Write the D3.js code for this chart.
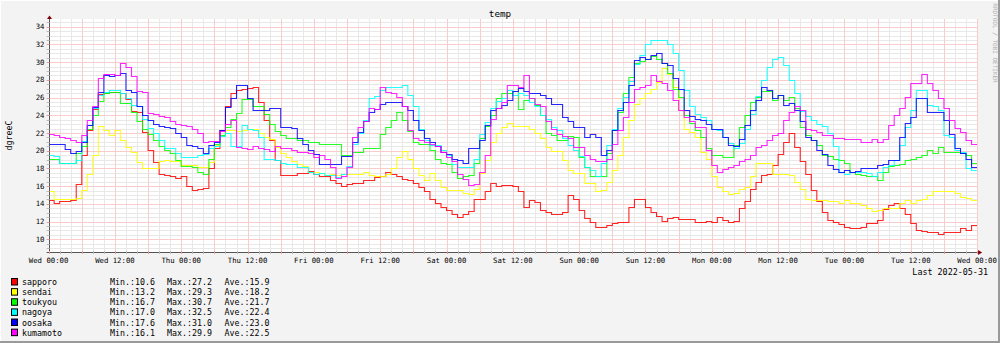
<!DOCTYPE html>
<html><head><meta charset="utf-8">
<script src="https://cdn.jsdelivr.net/npm/d3@7/dist/d3.min.js"></script>
<style>html,body{margin:0;padding:0;background:#F3F3F3}svg{display:block}</style>
</head><body><svg id="c" width="1000" height="343"></svg>
<script>
// ---------- data (hourly, Wed 00:00 .. Tue 23:00) ----------
const names  = ["sapporo","sendai","toukyou","nagoya","oosaka","kumamoto"];
const colors = ["#FF0000","#FFFF00","#00FF00","#00FFFF","#0000FF","#FF00FF"];
const sapporo = [14.4,14.1,14.3,14.3,14.4,16.2,19.5,22.3,24.7,26.4,26.5,26.6,
26.6,26.5,25.8,24.5,24.4,22.1,20.1,18.7,17.4,17.3,17.2,16.9,
17.1,16.0,15.6,15.7,15.8,18.0,20.3,22.3,25.1,26.5,26.9,27.0,
27.1,27.2,25.5,23.5,21.2,19.0,17.3,17.3,17.3,17.5,17.5,17.7,
17.4,17.2,17.2,16.7,16.3,16.0,16.2,16.4,16.4,16.7,16.7,17.0,
17.2,17.6,17.4,17.1,16.8,16.7,16.3,15.9,15.4,14.6,14.1,13.6,
13.3,12.9,12.55,12.9,13.2,14.5,14.6,15.4,16.4,16.0,16.1,16.1,
16.0,15.4,13.7,14.4,14.2,13.3,13.1,12.9,12.9,13.1,15.0,14.6,
13.3,12.4,12.0,11.35,11.4,11.6,11.8,11.9,12.0,13.6,14.5,14.5,
13.6,13.1,12.6,12.1,12.4,12.5,12.25,12.25,12.25,11.9,11.9,12.1,
11.9,12.5,12.2,11.9,12.1,13.5,14.3,15.7,16.5,17.3,17.4,18.4,
19.6,21.0,22.0,20.4,18.8,17.4,15.6,14.3,13.1,12.2,11.9,11.7,
11.35,11.25,11.25,11.4,11.8,11.8,12.2,13.4,13.9,14.1,13.5,12.9,
11.8,11.05,10.9,10.85,10.85,10.6,10.85,10.85,10.85,11.3,11.1,11.6];
const sendai = [15.4,14.6,14.5,14.5,14.5,14.7,15.6,17.4,19.5,22.8,22.3,21.8,
22.3,21.2,20.4,19.8,18.7,18.0,18.1,18.1,18.8,18.9,18.8,18.8,
18.4,18.4,18.4,18.2,18.2,18.7,20.6,21.7,22.3,22.3,22.2,22.3,
22.5,22.5,22.0,21.6,21.3,20.4,19.7,19.3,18.8,18.5,18.3,17.6,
17.6,17.5,17.3,17.4,17.3,17.4,17.4,17.4,17.4,17.6,17.3,17.2,
17.1,17.4,18.0,19.3,20.0,19.1,18.0,17.3,16.7,17.5,16.7,15.9,
15.6,15.6,15.6,15.2,15.1,15.7,17.5,19.0,21.0,22.0,22.7,23.1,
22.8,22.8,22.8,22.5,22.0,21.4,20.4,20.0,20.0,19.0,17.8,17.5,
17.5,16.3,16.3,15.45,15.6,16.5,17.8,19.5,21.5,23.5,25.3,25.9,
26.5,27.0,27.8,29.3,28.7,27.2,24.6,22.5,22.1,21.6,19.9,19.1,
17.1,15.9,15.4,15.1,15.2,15.7,15.9,17.1,18.6,18.6,18.6,17.4,
17.4,17.4,17.3,16.5,15.7,14.6,14.4,14.4,14.4,14.3,14.3,14.1,
14.4,14.1,14.1,13.9,13.5,13.2,13.3,13.5,13.5,13.5,14.1,14.4,
14.1,14.4,14.6,15.0,15.5,15.5,15.4,15.4,15.2,14.8,14.7,14.4];
const toukyou = [19.1,19.1,18.6,18.6,18.6,19.7,20.5,22.5,24.0,25.6,26.5,26.6,
26.6,25.4,25.4,24.4,23.3,22.4,21.9,21.2,20.5,20.1,19.7,19.0,
18.3,18.3,18.2,17.6,17.4,19.1,20.8,21.8,22.7,23.6,24.3,25.8,
25.8,25.0,25.0,24.1,23.0,22.2,21.8,21.4,21.4,21.2,21.2,21.0,
21.0,20.8,20.8,20.8,20.8,19.5,19.5,19.8,19.8,20.3,20.3,20.3,
21.9,22.7,23.5,24.4,23.5,22.2,21.0,20.8,20.8,20.1,19.1,18.6,
18.5,17.6,16.9,17.1,17.3,18.6,21.4,22.8,24.0,25.9,26.5,26.5,
26.7,24.7,25.7,26.0,25.2,24.0,22.0,21.8,21.2,21.2,21.7,21.6,
19.3,18.2,17.1,17.1,17.1,19.7,22.3,24.4,26.5,28.3,29.9,30.1,
30.4,30.7,30.3,29.9,28.8,27.0,26.1,24.0,23.1,22.3,21.6,20.3,
19.5,19.5,19.3,19.3,20.6,22.7,24.0,25.5,26.1,26.7,26.7,25.7,
26.3,25.7,26.1,24.8,22.7,21.8,21.2,20.6,19.5,19.4,19.1,18.9,
18.6,17.6,17.4,17.3,17.2,17.1,16.7,17.6,18.3,18.4,18.5,19.0,
19.1,19.3,19.5,20.1,19.7,20.4,19.9,19.9,19.8,19.7,19.5,18.6];
const nagoya = [19.5,19.4,18.6,18.6,18.6,19.0,21.1,22.9,24.8,26.3,26.6,26.9,
26.9,26.5,26.0,25.2,25.0,23.6,22.6,22.0,21.2,20.3,20.3,19.7,
19.3,19.3,19.3,19.5,19.6,20.3,20.5,21.7,22.0,20.5,20.5,22.9,
22.5,22.3,21.6,19.1,19.1,19.0,18.6,18.5,18.5,18.2,18.2,17.6,
17.4,17.5,17.3,17.3,17.0,17.4,18.3,20.8,22.0,23.5,26.0,26.2,
26.8,27.2,27.2,27.2,27.4,26.3,25.0,22.5,21.2,20.6,20.6,20.1,
19.5,18.5,18.2,18.2,18.2,19.1,21.9,23.2,24.8,25.6,25.9,26.8,
26.3,26.5,26.3,25.5,25.0,24.0,23.6,22.7,22.3,21.4,20.6,20.1,
19.4,18.2,17.8,17.1,18.6,20.6,22.5,24.8,26.1,27.9,29.8,30.8,
32.1,32.5,32.5,32.5,32.1,31.0,29.1,26.8,25.0,24.2,23.8,23.5,
22.5,22.3,21.6,20.9,20.3,20.9,22.5,24.2,26.2,28.0,29.4,30.4,
30.6,29.7,28.0,26.5,24.5,23.9,23.5,23.0,22.8,22.0,20.5,17.6,
17.4,17.6,17.6,17.6,17.5,17.1,17.6,18.2,18.4,18.9,20.6,22.7,
24.6,26.8,26.9,25.2,25.0,24.6,21.8,21.6,20.1,19.9,18.0,17.8];
const oosaka = [20.8,20.8,20.8,20.2,19.7,20.0,21.0,22.9,24.9,26.6,28.5,28.4,
28.6,28.8,26.9,26.6,25.0,24.0,23.5,23.0,22.8,22.7,22.6,22.0,
21.5,20.6,20.5,20.3,19.7,20.7,21.0,22.3,24.9,26.0,27.4,27.4,
26.0,24.6,24.6,24.6,24.8,24.8,22.7,22.7,22.6,21.4,20.8,20.1,
19.6,18.5,18.5,18.5,18.5,19.4,19.4,21.0,22.1,23.3,24.4,24.7,
25.3,25.5,25.5,25.5,25.1,24.6,23.5,22.3,21.4,21.0,20.5,19.8,
19.6,19.1,18.9,18.6,20.3,20.3,21.2,22.9,24.6,24.8,25.2,25.7,
26.7,27.1,26.7,26.5,26.5,26.3,25.9,25.3,25.3,23.8,23.3,22.7,
22.7,21.6,21.9,21.6,19.5,20.1,22.3,24.6,25.5,27.4,30.2,30.6,
30.4,30.8,31.0,29.9,29.7,28.2,27.0,24.6,23.9,23.6,23.5,23.0,
22.4,22.5,21.6,20.7,20.5,21.3,22.9,24.6,25.7,27.2,26.8,25.9,
26.3,25.2,25.4,24.6,23.3,21.6,21.2,20.1,19.6,18.4,17.9,17.6,
17.8,17.6,17.7,18.0,18.0,18.1,18.4,18.5,18.9,19.0,21.6,23.1,
23.8,26.0,25.9,24.4,24.4,24.4,23.5,21.9,20.3,19.7,19.1,18.2];
const kumamoto = [21.9,21.8,21.5,21.4,21.2,21.0,21.8,23.5,25.0,28.2,28.7,28.7,
28.6,29.9,29.5,28.4,26.7,26.6,24.3,24.2,23.9,23.8,23.3,23.0,
22.9,22.8,22.4,22.0,21.0,21.1,21.1,22.2,23.0,23.5,20.4,20.3,
20.2,20.5,20.3,20.2,20.0,20.5,20.3,20.3,20.1,19.9,19.9,19.7,
19.3,19.5,19.1,18.2,16.9,17.1,18.2,21.6,22.7,23.4,24.8,24.7,
27.2,26.6,26.5,26.1,25.0,22.3,21.4,21.2,21.0,20.8,20.5,19.9,
19.3,18.8,17.4,16.8,16.1,16.2,17.6,19.5,23.6,24.8,25.5,27.4,
27.4,27.2,28.5,25.9,25.3,25.0,23.3,22.5,21.9,21.7,21.4,20.4,
20.4,19.5,19.1,18.8,18.8,19.1,20.8,22.3,23.8,25.5,27.0,27.2,
27.4,28.5,27.9,27.7,26.8,25.7,24.6,23.8,23.3,22.7,22.7,20.1,
18.4,17.6,17.9,18.2,18.4,18.8,19.1,19.5,20.4,20.6,21.2,21.8,
22.0,23.5,24.4,25.0,24.6,22.5,22.3,22.1,21.8,21.8,21.4,21.4,
21.3,21.3,21.3,21.0,21.0,21.3,21.0,21.3,22.9,24.0,24.8,26.1,
27.7,27.7,28.7,27.7,26.9,26.0,24.8,23.5,22.6,22.1,21.2,20.8];
const series = [sapporo, sendai, toukyou, nagoya, oosaka, kumamoto];
const legendMin = ["10.6","13.2","16.7","17.0","17.6","16.1"];
const legendMax = ["27.2","29.3","30.7","32.5","31.0","29.9"];
const legendAve = ["15.9","18.2","21.7","22.4","23.0","22.5"];
const xTickLabels = ["Wed 00:00","Wed 12:00","Thu 00:00","Thu 12:00","Fri 00:00","Fri 12:00",
  "Sat 00:00","Sat 12:00","Sun 00:00","Sun 12:00","Mon 00:00","Mon 12:00","Tue 00:00","Tue 12:00","Wed 00:00"];
const yTicks = [10,12,14,16,18,20,22,24,26,28,30,32,34];
const title = "temp", yTitle = "dgreeC", lastLabel = "Last 2022-05-31";
const watermark = "RRDTOOL / TOBI OETIKER";

// ---------- layout ----------
const svg = d3.select("#c");
const W = 1000, H = 343;
const L = 48.6, R = 977.1, B = 252, T = 19;
const x = d3.scaleLinear().domain([0,168]).range([L,R]);
const y = d3.scaleLinear().domain([10,34]).range([239.3,26.7]);
const mono = "'DejaVu Sans Mono', monospace";
const px = v => Math.round(v)+0.5;

svg.append("rect").attr("width",W).attr("height",H).attr("fill","#F3F3F3");
svg.append("path").attr("d",`M0.5,${H}V0.5H${W}`).attr("fill","none").attr("stroke","#FFFFFF").attr("stroke-width",1);
svg.append("path").attr("d",`M${W-1},0V${H-1}H0`).attr("fill","none").attr("stroke","#9A9A9A").attr("stroke-width",2);
svg.append("rect").attr("x",L).attr("y",T).attr("width",R-L).attr("height",B-T).attr("fill","#FFFFFF");

const g = svg.append("g");
const yLo = y.invert(B), yHi = y.invert(T);
const yMinor = d3.range(Math.ceil(yLo*2)/2, yHi, 0.5).filter(v=>v%2!==0);
const xMinor = d3.range(0, 169, 2).filter(v=>v%6!==0);
const xMajor = d3.range(0, 169, 6);
// minor grid
g.selectAll(".ymi").data(yMinor).join("line")
  .attr("x1",L).attr("x2",R).attr("y1",d=>px(y(d))).attr("y2",d=>px(y(d)))
  .attr("stroke","#E8E8E8").attr("stroke-width",1);
g.selectAll(".xmi").data(xMinor).join("line")
  .attr("y1",T).attr("y2",B).attr("x1",d=>px(x(d))).attr("x2",d=>px(x(d)))
  .attr("stroke","#E8E8E8").attr("stroke-width",1);
// major grid
g.selectAll(".yma").data(yTicks).join("line")
  .attr("x1",L).attr("x2",R).attr("y1",d=>px(y(d))).attr("y2",d=>px(y(d)))
  .attr("stroke","#F8CCCC").attr("stroke-width",1);
g.selectAll(".xma").data(xMajor).join("line")
  .attr("y1",T).attr("y2",B).attr("x1",d=>px(x(d))).attr("x2",d=>px(x(d)))
  .attr("stroke","#F8CCCC").attr("stroke-width",1);

// series
svg.append("clipPath").attr("id","clip").append("rect").attr("x",L).attr("y",T).attr("width",R-L).attr("height",B-T);
const line = d3.line().x((d,i)=>x(i)).y(d=>px(y(d))).curve(d3.curveStepAfter);
const lg = svg.append("g").attr("clip-path","url(#clip)");
series.forEach((s,k)=>{
  lg.append("path").attr("d",line(s.concat([s[s.length-1]])))
    .attr("fill","none").attr("stroke",colors[k]).attr("stroke-width",1.1).attr("stroke-opacity",0.85);
});

// axes
const ax = svg.append("g");
ax.append("line").attr("x1",L-2).attr("x2",R+2).attr("y1",B+0.5).attr("y2",B+0.5).attr("stroke","#555").attr("stroke-width",1);
ax.append("line").attr("x1",px(L)).attr("x2",px(L)).attr("y1",B+2).attr("y2",T).attr("stroke","#555").attr("stroke-width",1);
ax.append("path").attr("d",`M${R+1},${B-2}L${R+5},${B+0.5}L${R+1},${B+3}Z`).attr("fill","#7F0000");
ax.append("path").attr("d",`M${px(L)-2.5},${T}L${px(L)},${T-3.5}L${px(L)+2.5},${T}Z`).attr("fill","#7F0000");
ax.selectAll(".xt").data(d3.range(0,169,2)).join("line")
  .attr("x1",d=>px(x(d))).attr("x2",d=>px(x(d))).attr("y1",B-1).attr("y2",B+2)
  .attr("stroke",(d)=>d%6===0?"#E99":"#BBB");
ax.selectAll(".yt").data(d3.range(Math.ceil(yLo*2)/2, yHi, 0.5)).join("line")
  .attr("y1",d=>px(y(d))).attr("y2",d=>px(y(d))).attr("x1",L-2).attr("x2",L+1)
  .attr("stroke",d=>d%2===0?"#E99":"#BBB");

// tick labels
svg.selectAll(".xl").data(xTickLabels).join("text")
  .attr("x",(d,i)=>x(i*12)).attr("y",263).attr("text-anchor","middle")
  .attr("font-family",mono).attr("font-size","7.3px").attr("fill","#000").text(d=>d);
svg.selectAll(".yl").data(yTicks).join("text")
  .attr("x",44.5).attr("y",d=>y(d)+2.6).attr("text-anchor","end")
  .attr("font-family",mono).attr("font-size","7.3px").attr("fill","#000").text(d=>d);

// titles
svg.append("text").attr("x",500).attr("y",17).attr("text-anchor","middle")
  .attr("font-family",mono).attr("font-size","9.3px").text(title);
svg.append("text").attr("transform","translate(11.5,135.5) rotate(-90)").attr("text-anchor","middle")
  .attr("font-family",mono).attr("font-size","8.3px").text(yTitle);
svg.append("text").attr("transform","translate(992.5,43) rotate(90)").attr("text-anchor","middle")
  .attr("font-family",mono).attr("font-size","6px").attr("fill","#B0B0B0").text(watermark);
svg.append("text").attr("x",988).attr("y",275).attr("text-anchor","end")
  .attr("font-family",mono).attr("font-size","8.4px").text(lastLabel);

// legend
names.forEach((n,k)=>{
  const cy = 282 + k*10.13;
  svg.append("rect").attr("x",11.5).attr("y",cy-3.5).attr("width",6).attr("height",6.5)
    .attr("fill",colors[k]).attr("stroke","#000").attr("stroke-width",1);
  const t = (xx,s)=>svg.append("text").attr("x",xx).attr("y",cy+3).attr("font-family",mono)
    .attr("font-size","8.3px").attr("fill","#000").text(s);
  t(22,n); t(110,"Min.:"+legendMin[k]); t(167,"Max.:"+legendMax[k]); t(224.5,"Ave.:"+legendAve[k]);
});
</script></body></html>
